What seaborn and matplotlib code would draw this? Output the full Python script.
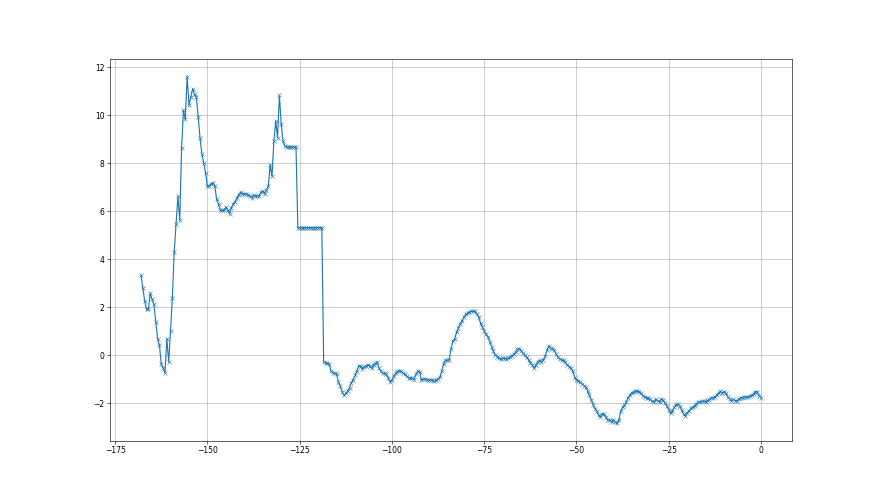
import seaborn as sns
import matplotlib.pyplot as plt
import numpy as np
import pandas as pd

# readings, one every 0.5 on x, ending at 0
y_rise = [3.32, 2.81, 2.25, 1.9, 1.9, 2.58, 2.32, 2.11, 1.39, 0.68,
          0.4, -0.39, -0.53, -0.74, 0.69, -0.29, 1.0, 2.39, 4.31, 5.47,
          6.61, 5.63, 8.61, 10.21, 9.82, 11.6, 10.42, 10.76, 11.1, 10.86,
          10.75, 9.92, 9.03, 8.39, 8.0, 7.6, 7.04, 7.04, 7.14, 7.18,
          7.04, 6.49, 6.28, 6.03, 6.03, 6.03, 6.17, 6.03, 5.89, 6.14,
          6.31, 6.39, 6.56, 6.69, 6.79, 6.72, 6.72, 6.72, 6.69, 6.63,
          6.56, 6.67, 6.63, 6.63, 6.63, 6.79, 6.83, 6.72, 6.86, 7.04,
          7.92, 7.46, 8.92, 9.75, 9.06, 10.82, 9.61, 8.92, 8.71, 8.67,
          8.67, 8.67, 8.67, 8.67, 8.67]
y_step = [5.31, 5.31, 5.31, 5.31, 5.31, 5.31, 5.31, 5.31, 5.31, 5.31,
          5.31, 5.31, 5.31, 5.31]
y_mid = [-0.3, -0.33, -0.34, -0.36, -0.68, -0.74, -0.75, -0.8, -1.12, -1.3, -1.52,
         -1.68, -1.6, -1.48, -1.36, -1.15, -1.02, -0.85, -0.65, -0.45, -0.45,
         -0.58, -0.5, -0.46, -0.4, -0.45, -0.55, -0.4, -0.35, -0.3, -0.55,
         -0.66, -0.76, -0.76, -0.8, -0.95, -1.12, -1.05, -0.88, -0.75, -0.68,
         -0.66, -0.68, -0.74, -0.8, -0.88, -0.94, -0.97, -0.96, -1.02, -0.8,
         -0.67, -0.7, -1.05, -1.0, -1.0, -1.03, -1.03, -1.03, -1.05, -1.1,
         -1.05, -0.98, -0.93, -0.66, -0.36, -0.22, -0.21, -0.2, 0.25, 0.6,
         0.66, 0.95, 1.12, 1.3, 1.44, 1.58, 1.7, 1.74, 1.8, 1.82,
         1.82, 1.82, 1.72, 1.58, 1.33, 1.17, 0.99, 0.86, 0.76, 0.55,
         0.35, 0.15, 0.0, -0.06, -0.13, -0.17, -0.13, -0.14, -0.16, -0.14,
         -0.08, -0.03, 0.03, 0.13, 0.24, 0.27, 0.19, 0.08, 0.0, -0.1,
         -0.2, -0.32, -0.4, -0.55, -0.4, -0.27, -0.22, -0.3, -0.21, -0.05,
         0.2, 0.39, 0.29, 0.25, 0.2, 0.04, -0.1, -0.17, -0.21, -0.21]
y_tail = [-0.3, -0.41, -0.48, -0.54, -0.68, -0.92, -1.03, -1.06, -1.13, -1.2,
          -1.27, -1.34, -1.48, -1.68, -1.86, -2.06, -2.23, -2.33, -2.51, -2.58,
          -2.44, -2.47, -2.6, -2.72, -2.7, -2.78, -2.7, -2.8, -2.84, -2.7,
          -2.35, -2.17, -2.1, -1.95, -1.78, -1.66, -1.58, -1.52, -1.49, -1.5,
          -1.52, -1.6, -1.7, -1.74, -1.77, -1.79, -1.85, -1.93, -1.95, -1.85,
          -1.9, -1.95, -1.83, -1.88, -2.01, -2.11, -2.27, -2.43, -2.32, -2.18,
          -2.06, -2.05, -2.12, -2.3, -2.45, -2.52, -2.42, -2.32, -2.22, -2.17,
          -2.11, -2.03, -1.95, -1.95, -1.93, -1.92, -1.95, -1.89, -1.88, -1.79,
          -1.77, -1.75, -1.67, -1.58, -1.51, -1.58, -1.52, -1.6, -1.75, -1.82,
          -1.9, -1.85, -1.9, -1.92, -1.82, -1.78, -1.77, -1.74, -1.74, -1.76,
          -1.71, -1.67, -1.62, -1.52, -1.53, -1.7, -1.78]

values = y_rise + y_step + y_mid + y_tail
x_step = 0.5
xs = -x_step * np.arange(len(values))[::-1]

df = pd.DataFrame({"x": xs, "y": values})

fig = plt.figure(figsize=(16, 9), dpi=55)
ax = fig.add_subplot(111)
sns.lineplot(x="x", y="y", data=df, ax=ax, color="#1f77b4", marker="x",
             markersize=6, markeredgecolor="#1f77b4", markeredgewidth=0.75,
             linewidth=1.5)
ax.set_xlabel("")
ax.set_ylabel("")
ax.grid(True)

fig.savefig("out.png", dpi=55)
